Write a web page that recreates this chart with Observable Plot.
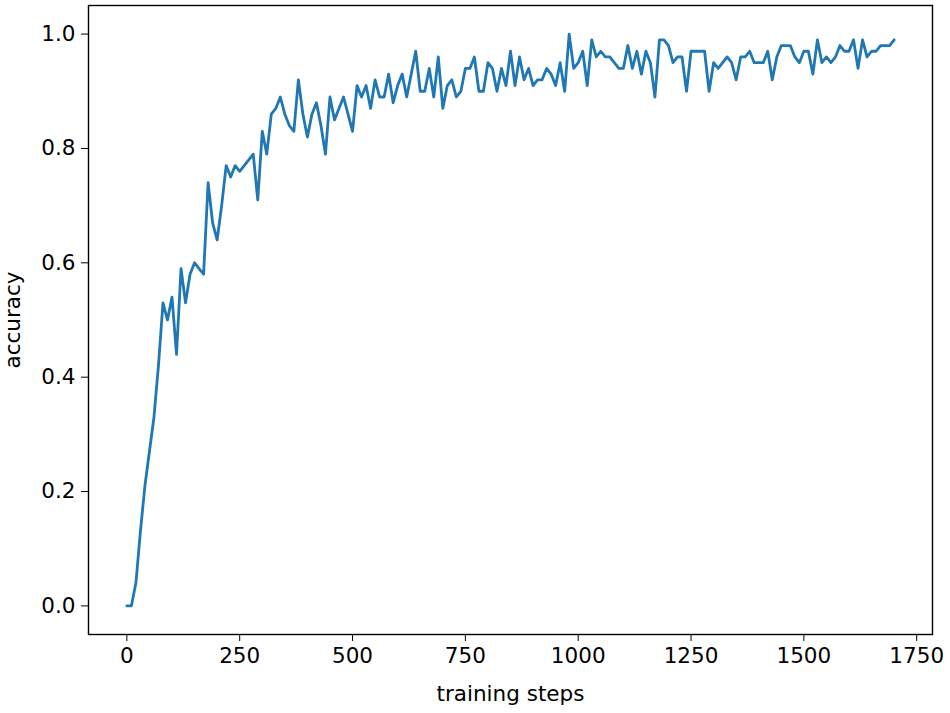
<!DOCTYPE html>
<html>
<head>
<meta charset="utf-8">
<script src="https://cdn.jsdelivr.net/npm/d3@7"></script>
<script src="https://cdn.jsdelivr.net/npm/@observablehq/plot@0.6"></script>
<style>
  html, body { margin: 0; padding: 0; background: #ffffff; }
  #chart { width: 950px; height: 713px; }
</style>
</head>
<body>
<div id="chart"></div>
<script>
const steps = [
  0, 10, 20, 30, 40, 50, 60, 70, 80, 90,
  100, 110, 120, 130, 140, 150, 160, 170, 180, 190,
  200, 210, 220, 230, 240, 250, 260, 270, 280, 290,
  300, 310, 320, 330, 340, 350, 360, 370, 380, 390,
  400, 410, 420, 430, 440, 450, 460, 470, 480, 490,
  500, 510, 520, 530, 540, 550, 560, 570, 580, 590,
  600, 610, 620, 630, 640, 650, 660, 670, 680, 690,
  700, 710, 720, 730, 740, 750, 760, 770, 780, 790,
  800, 810, 820, 830, 840, 850, 860, 870, 880, 890,
  900, 910, 920, 930, 940, 950, 960, 970, 980, 990,
  1000, 1010, 1020, 1030, 1040, 1050, 1060, 1070, 1080, 1090,
  1100, 1110, 1120, 1130, 1140, 1150, 1160, 1170, 1180, 1190,
  1200, 1210, 1220, 1230, 1240, 1250, 1260, 1270, 1280, 1290,
  1300, 1310, 1320, 1330, 1340, 1350, 1360, 1370, 1380, 1390,
  1400, 1410, 1420, 1430, 1440, 1450, 1460, 1470, 1480, 1490,
  1500, 1510, 1520, 1530, 1540, 1550, 1560, 1570, 1580, 1590,
  1600, 1610, 1620, 1630, 1640, 1650, 1660, 1670, 1680, 1690,
  1700
];

const accuracy = [
  0.00, 0.00, 0.04, 0.13, 0.21, 0.27, 0.33, 0.42, 0.53, 0.50,
  0.54, 0.44, 0.59, 0.53, 0.58, 0.60, 0.59, 0.58, 0.74, 0.67,
  0.64, 0.70, 0.77, 0.75, 0.77, 0.76, 0.77, 0.78, 0.79, 0.71,
  0.83, 0.79, 0.86, 0.87, 0.89, 0.86, 0.84, 0.83, 0.92, 0.86,
  0.82, 0.86, 0.88, 0.84, 0.79, 0.89, 0.85, 0.87, 0.89, 0.86,
  0.83, 0.91, 0.89, 0.91, 0.87, 0.92, 0.89, 0.89, 0.93, 0.88,
  0.91, 0.93, 0.89, 0.93, 0.97, 0.90, 0.90, 0.94, 0.89, 0.96,
  0.87, 0.91, 0.92, 0.89, 0.90, 0.94, 0.94, 0.96, 0.90, 0.90,
  0.95, 0.94, 0.90, 0.94, 0.91, 0.97, 0.91, 0.96, 0.92, 0.94,
  0.91, 0.92, 0.92, 0.94, 0.93, 0.91, 0.95, 0.90, 1.00, 0.94,
  0.95, 0.97, 0.91, 0.99, 0.96, 0.97, 0.96, 0.96, 0.95, 0.94,
  0.94, 0.98, 0.94, 0.97, 0.93, 0.97, 0.95, 0.89, 0.99, 0.99,
  0.98, 0.95, 0.96, 0.96, 0.90, 0.97, 0.97, 0.97, 0.97, 0.90,
  0.95, 0.94, 0.95, 0.96, 0.95, 0.92, 0.96, 0.96, 0.97, 0.95,
  0.95, 0.95, 0.97, 0.92, 0.96, 0.98, 0.98, 0.98, 0.96, 0.95,
  0.97, 0.97, 0.93, 0.99, 0.95, 0.96, 0.95, 0.96, 0.98, 0.97,
  0.97, 0.99, 0.94, 0.99, 0.96, 0.97, 0.97, 0.98, 0.98, 0.98,
  0.99
];

const xTickValues = [0, 250, 500, 750, 1000, 1250, 1500, 1750];
const yTickValues = [0.0, 0.2, 0.4, 0.6, 0.8, 1.0];
const xLabel = "training steps";
const yLabel = "accuracy";
const lineColor = "#1f77b4";

const data = steps.map((s, i) => ({step: s, acc: accuracy[i]}));

const chart = Plot.plot({
  width: 950,
  height: 713,
  marginLeft: 88,
  marginRight: 18,
  marginTop: 5,
  marginBottom: 79,
  style: {
    fontFamily: "'DejaVu Sans', sans-serif",
    fontSize: "21.5px",
    background: "#ffffff",
    color: "#000000",
    overflow: "visible"
  },
  x: {domain: [-85, 1785]},
  y: {domain: [-0.05, 1.05]},
  marks: [
    Plot.axisX({
      ticks: xTickValues,
      tickSize: 7,
      tickPadding: 6,
      tickFormat: d => String(d),
      label: xLabel,
      labelAnchor: "center",
      labelArrow: "none",
      labelOffset: 66
    }),
    Plot.axisY({
      ticks: yTickValues,
      tickSize: 7,
      tickPadding: 6,
      tickFormat: d3.format(".1f"),
      label: yLabel,
      labelAnchor: "center",
      labelArrow: "none",
      labelOffset: 84
    }),
    Plot.line(data, {
      x: "step",
      y: "acc",
      stroke: lineColor,
      strokeWidth: 2.8,
      strokeLinejoin: "round"
    }),
    Plot.frame({stroke: "#000000", strokeWidth: 1.4})
  ]
});

document.getElementById("chart").appendChild(chart);
</script>
</body>
</html>
